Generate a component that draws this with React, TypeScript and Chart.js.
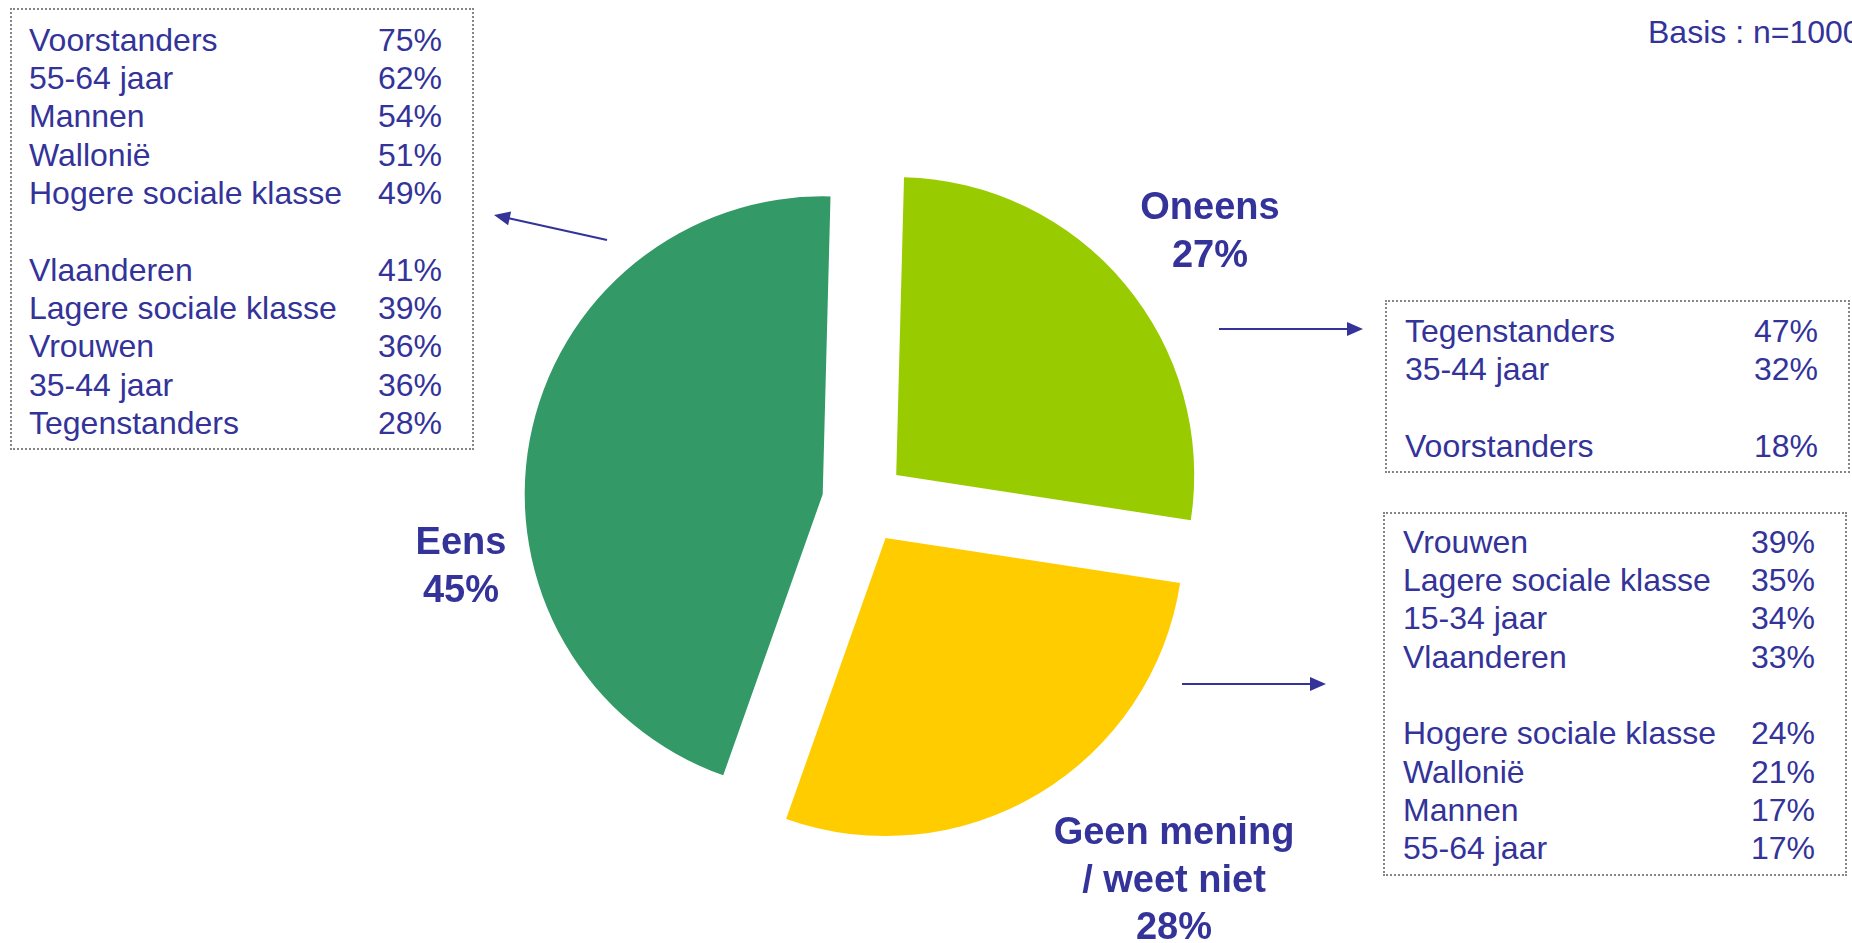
import React, { useEffect, useRef } from "react";
import { Chart, registerables } from "chart.js";

Chart.register(...registerables);

// ---- Data ----
const sliceLabels = ["Oneens", "Geen mening / weet niet", "Eens"];
const sliceValues = [27, 28, 45];
const sliceColors = ["#99CC00", "#FFCC00", "#339966"];

const eensProfileLabels = [
  "Voorstanders",
  "55-64 jaar",
  "Mannen",
  "Wallonië",
  "Hogere sociale klasse",
  "",
  "Vlaanderen",
  "Lagere sociale klasse",
  "Vrouwen",
  "35-44 jaar",
  "Tegenstanders",
];
const eensProfileValues = [75, 62, 54, 51, 49, null, 41, 39, 36, 36, 28];

const oneensProfileLabels = ["Tegenstanders", "35-44 jaar", "", "Voorstanders"];
const oneensProfileValues = [47, 32, null, 18];

const geenProfileLabels = [
  "Vrouwen",
  "Lagere sociale klasse",
  "15-34 jaar",
  "Vlaanderen",
  "",
  "Hogere sociale klasse",
  "Wallonië",
  "Mannen",
  "55-64 jaar",
];
const geenProfileValues = [39, 35, 34, 33, null, 24, 21, 17, 17];

const basisText = "Basis : n=1000";

// ---- Styling ----
const NAVY = "#333399";
const FONT = '"Liberation Sans", Arial, Helvetica, sans-serif';
const ROW_H = 38.3;
const EXPLODE = 42;

// Translate each slice outward along its bisector (exploded pie),
// keeping the radius identical for every slice.
const explodePlugin = {
  id: "explodeSlices",
  afterDatasetUpdate(_chart: any, args: any) {
    const meta = args.meta;
    meta.data.forEach((arc: any) => {
      const mid = (arc.startAngle + arc.endAngle) / 2;
      arc.x += EXPLODE * Math.cos(mid);
      arc.y += EXPLODE * Math.sin(mid);
    });
  },
};

type TableProps = {
  labels: string[];
  values: (number | null)[];
  box: { l: number; t: number; r: number; b: number };
  textLeft: number;
  textTop: number;
  pctRight: number;
};

function ProfileTable({ labels, values, box, textLeft, textTop, pctRight }: TableProps) {
  return (
    <>
      <div
        style={{
          position: "absolute",
          left: box.l,
          top: box.t,
          width: box.r - box.l,
          height: box.b - box.t,
          border: "2px dotted #858585",
          boxSizing: "border-box",
        }}
      />
      {labels.map((lab, i) => (
        <div
          key={i}
          style={{
            position: "absolute",
            left: textLeft,
            top: textTop + i * ROW_H,
            width: pctRight - textLeft,
            height: ROW_H,
            lineHeight: ROW_H + "px",
            fontSize: 32,
            color: NAVY,
            whiteSpace: "nowrap",
          }}
        >
          <span style={{ position: "absolute", left: 0 }}>{lab}</span>
          <span style={{ position: "absolute", right: 0 }}>
            {values[i] === null ? "" : values[i] + "%"}
          </span>
        </div>
      ))}
    </>
  );
}

function Arrow({ x1, y1, x2, y2 }: { x1: number; y1: number; x2: number; y2: number }) {
  const dx = x2 - x1;
  const dy = y2 - y1;
  const len = Math.hypot(dx, dy);
  const ux = dx / len;
  const uy = dy / len;
  const headLen = 16;
  const halfW = 7;
  const bx = x2 - ux * headLen;
  const by = y2 - uy * headLen;
  const px = -uy;
  const py = ux;
  const pts = `${x2},${y2} ${bx + px * halfW},${by + py * halfW} ${bx - px * halfW},${by - py * halfW}`;
  return (
    <g>
      <line x1={x1} y1={y1} x2={bx + ux * 2} y2={by + uy * 2} stroke={NAVY} strokeWidth={2.2} />
      <polygon points={pts} fill={NAVY} />
    </g>
  );
}

function PieLabel({ cx, top, lines }: { cx: number; top: number; lines: string[] }) {
  return (
    <div
      style={{
        position: "absolute",
        left: cx - 200,
        top,
        width: 400,
        textAlign: "center",
        fontSize: 38,
        fontWeight: "bold",
        lineHeight: "47.5px",
        color: NAVY,
        whiteSpace: "nowrap",
      }}
    >
      {lines.map((l, i) => (
        <div key={i}>{l}</div>
      ))}
    </div>
  );
}

export default function App() {
  const canvasRef = useRef<HTMLCanvasElement>(null);

  useEffect(() => {
    document.body.style.margin = "0";
    const canvas = canvasRef.current;
    if (!canvas) return;
    const chart = new Chart(canvas, {
      type: "pie",
      data: {
        labels: sliceLabels,
        datasets: [
          {
            data: sliceValues,
            backgroundColor: sliceColors,
            borderWidth: 0,
            hoverOffset: 0,
            offset: 0,
          } as any,
        ],
      },
      options: {
        responsive: false,
        animation: false,
        devicePixelRatio: 1,
        rotation: 1.5,
        radius: 298,
        layout: { padding: 0 },
        events: [],
        plugins: {
          legend: { display: false },
          tooltip: { enabled: false },
        },
      } as any,
      plugins: [explodePlugin as any],
    });
    return () => chart.destroy();
  }, []);

  const CANVAS = 760;
  const cx = 864;
  const cy = 502;

  return (
    <div
      style={{
        position: "fixed",
        left: 0,
        top: 0,
        width: 1852,
        height: 943,
        overflow: "hidden",
        background: "#ffffff",
        fontFamily: FONT,
      }}
    >
      <canvas
        ref={canvasRef}
        width={CANVAS}
        height={CANVAS}
        style={{ position: "absolute", left: cx - CANVAS / 2, top: cy - CANVAS / 2 }}
      />

      <ProfileTable
        labels={eensProfileLabels}
        values={eensProfileValues}
        box={{ l: 10, t: 8, r: 474, b: 450 }}
        textLeft={29}
        textTop={20.8}
        pctRight={442}
      />
      <ProfileTable
        labels={oneensProfileLabels}
        values={oneensProfileValues}
        box={{ l: 1385, t: 300, r: 1850, b: 473 }}
        textLeft={1405}
        textTop={311.8}
        pctRight={1818}
      />
      <ProfileTable
        labels={geenProfileLabels}
        values={geenProfileValues}
        box={{ l: 1383, t: 512, r: 1847, b: 876 }}
        textLeft={1403}
        textTop={522.8}
        pctRight={1815}
      />

      <div
        style={{
          position: "absolute",
          left: 1648,
          top: 12.8,
          fontSize: 32,
          lineHeight: ROW_H + "px",
          color: NAVY,
          whiteSpace: "nowrap",
        }}
      >
        {basisText}
      </div>

      <PieLabel cx={461} top={518} lines={[sliceLabels[2], sliceValues[2] + "%"]} />
      <PieLabel cx={1210} top={183} lines={[sliceLabels[0], sliceValues[0] + "%"]} />
      <PieLabel cx={1174} top={808} lines={["Geen mening", "/ weet niet", sliceValues[1] + "%"]} />

      <svg
        width={1852}
        height={943}
        style={{ position: "absolute", left: 0, top: 0, pointerEvents: "none" }}
      >
        <Arrow x1={607} y1={240} x2={494} y2={215} />
        <Arrow x1={1219} y1={329} x2={1363} y2={329} />
        <Arrow x1={1182} y1={684} x2={1326} y2={684} />
      </svg>
    </div>
  );
}
